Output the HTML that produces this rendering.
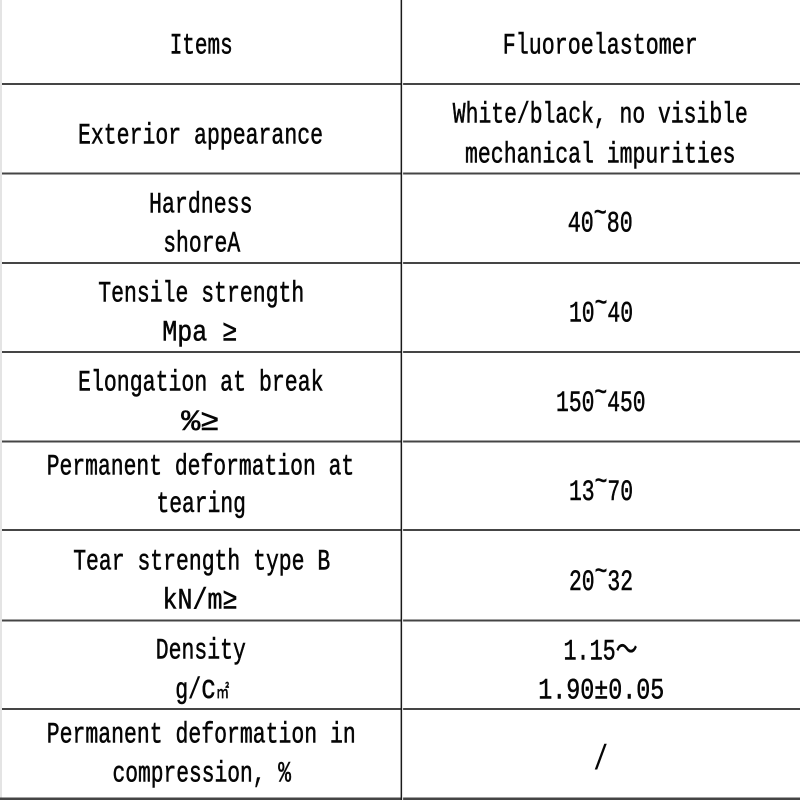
<!DOCTYPE html>
<html>
<head>
<meta charset="utf-8">
<style>
  html, body { margin: 0; padding: 0; background: #ffffff; }
  body { width: 800px; height: 800px; overflow: hidden; }
  svg { display: block; }
  text { font-family: "Liberation Mono", "Noto Sans CJK SC", monospace; font-size: 29.5px; fill: #050505; stroke: #050505; stroke-width: 0.55px; }
</style>
</head>
<body>
<svg width="800" height="800" viewBox="0 0 800 800" xmlns="http://www.w3.org/2000/svg">
  <rect x="0" y="0" width="800" height="800" fill="#ffffff"/>
  <!-- left light border -->
  <rect x="0" y="0" width="2" height="800" fill="#e4e4e4"/>
  <!-- horizontal lines -->
  <g fill="#454545">
    <rect x="2" y="83" width="798" height="2"/>
    <rect x="2" y="172.5" width="798" height="2"/>
    <rect x="2" y="262" width="798" height="2"/>
    <rect x="2" y="351" width="798" height="2"/>
    <rect x="2" y="440.5" width="798" height="2"/>
    <rect x="2" y="529" width="798" height="2"/>
    <rect x="2" y="619.5" width="798" height="2"/>
    <rect x="2" y="708" width="798" height="2"/>
    <rect x="0" y="797.5" width="800" height="2.5"/>
  </g>
  <!-- vertical divider -->
  <rect x="400.6" y="0" width="1.5" height="800" fill="#1a1a1a"/>
  <rect x="402.1" y="0" width="1" height="800" fill="#e8e8e8"/>

  <g text-anchor="middle">
    <!-- left column -->
    <text x="201.2" y="53.5" textLength="63" lengthAdjust="spacingAndGlyphs">Items</text>
    <text x="200.5" y="143.3" textLength="245" lengthAdjust="spacingAndGlyphs">Exterior appearance</text>
    <text x="200.8" y="212.7" textLength="103.5" lengthAdjust="spacingAndGlyphs">Hardness</text>
    <text x="201.7" y="251.7" textLength="77" lengthAdjust="spacingAndGlyphs">shoreA</text>
    <text x="201.2" y="301.7" textLength="206" lengthAdjust="spacingAndGlyphs">Tensile strength</text>
    <text x="199.8" y="340.7" textLength="75" lengthAdjust="spacingAndGlyphs">Mpa ≥</text>
    <text x="200.8" y="390.7" textLength="245.5" lengthAdjust="spacingAndGlyphs">Elongation at break</text>
    <text x="200.3" y="430" textLength="38" lengthAdjust="spacingAndGlyphs">%≥</text>
    <text x="200.5" y="474.3" textLength="307.5" lengthAdjust="spacingAndGlyphs">Permanent deformation at</text>
    <text x="201.2" y="512" textLength="89.5" lengthAdjust="spacingAndGlyphs">tearing</text>
    <text x="201.7" y="569.3" textLength="257" lengthAdjust="spacingAndGlyphs">Tear strength type B</text>
    <text x="200" y="608.3" textLength="75" lengthAdjust="spacingAndGlyphs">kN/m≥</text>
    <text x="200.8" y="658.3" textLength="90" lengthAdjust="spacingAndGlyphs">Density</text>
    <text x="202.2" y="698" textLength="54" lengthAdjust="spacingAndGlyphs">g/<tspan style="font-size:34px">c</tspan><tspan style="font-family:'Noto Sans CJK SC',sans-serif;font-size:18px">㎡</tspan></text>
    <text x="201.3" y="742.3" textLength="309" lengthAdjust="spacingAndGlyphs">Permanent deformation in</text>
    <text x="201.7" y="781.7" textLength="178.5" lengthAdjust="spacingAndGlyphs">compression, %</text>

    <!-- right column -->
    <text x="600.3" y="53.3" textLength="195" lengthAdjust="spacingAndGlyphs">Fluoroelastomer</text>
    <text x="600.3" y="122.7" textLength="295" lengthAdjust="spacingAndGlyphs">White/black, no visible</text>
    <text x="600.3" y="162.7" textLength="270.5" lengthAdjust="spacingAndGlyphs">mechanical impurities</text>
    <text x="600.3" y="231.7" textLength="65" lengthAdjust="spacingAndGlyphs">40<tspan dy="-10">~</tspan><tspan dy="10">80</tspan></text>
    <text x="601" y="321.7" textLength="64" lengthAdjust="spacingAndGlyphs">10<tspan dy="-10">~</tspan><tspan dy="10">40</tspan></text>
    <text x="600.8" y="411" textLength="89.5" lengthAdjust="spacingAndGlyphs">150<tspan dy="-10">~</tspan><tspan dy="10">450</tspan></text>
    <text x="601" y="500" textLength="64" lengthAdjust="spacingAndGlyphs">13<tspan dy="-10">~</tspan><tspan dy="10">70</tspan></text>
    <text x="601" y="590" textLength="64" lengthAdjust="spacingAndGlyphs">20<tspan dy="-10">~</tspan><tspan dy="10">32</tspan></text>
    <text x="600.5" y="659.3" textLength="74" lengthAdjust="spacingAndGlyphs">1.15～</text>
    <text x="601.3" y="698.3" textLength="126" lengthAdjust="spacingAndGlyphs">1.90±0.05</text>
    <text x="600.8" y="769" textLength="14" lengthAdjust="spacingAndGlyphs" style="font-size:34px">/</text>
  </g>
</svg>
</body>
</html>
